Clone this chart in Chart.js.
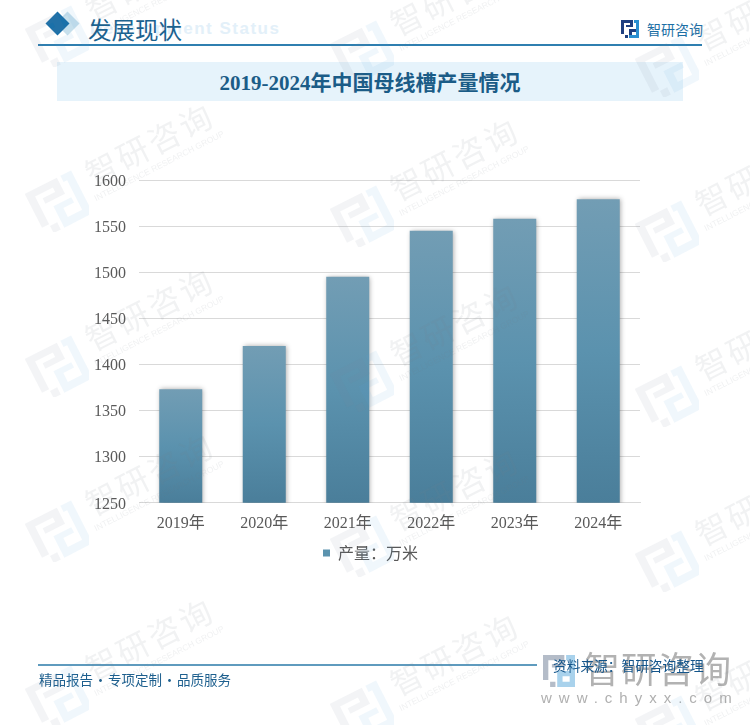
<!DOCTYPE html>
<html lang="zh">
<head>
<meta charset="utf-8">
<title>2019-2024年中国母线槽产量情况</title>
<script src="https://cdn.jsdelivr.net/npm/chart.js@4"></script>
<style>
    html, body { margin: 0; padding: 0; background: #fff; }
    #page { position: relative; width: 750px; height: 725px; overflow: hidden; font-family: "Liberation Serif", "Noto Sans CJK SC", serif; }
    #page div, #page span, #page svg { position: absolute; white-space: nowrap; }
    canvas { position: absolute; left: 0; top: 0; }
    #watermarks { left: 0; top: 0; width: 750px; height: 725px; pointer-events: none; }
    .wm { width: 1px; height: 1px; }
    .wm-name { left: 40px; top: -51px; font: 32px "Noto Sans CJK SC", sans-serif; letter-spacing: 3px; color: rgba(120, 130, 140, 0.10); transform: rotate(-27deg); transform-origin: 0 100%; }
    .wm-sub { left: 40px; top: -7px; font: 8.5px "Liberation Sans", sans-serif; color: rgba(120, 130, 140, 0.11); transform: rotate(-27deg); transform-origin: 0 100%; }
</style>
</head>
<body>
<div id="page">
    <!-- header -->
    <div style="left:90px;top:19px;font:bold 17px 'Liberation Sans',sans-serif;color:#e3f0f9;letter-spacing:1.5px">Development Status</div>
    <div style="left:58.5px;top:14.5px;width:17px;height:17px;background:#c6dfec;transform:rotate(45deg)"></div>
    <div style="left:48.5px;top:14.5px;width:17px;height:17px;background:#1a70a9;transform:rotate(45deg)"></div>
    <div style="left:88px;top:12px;font:23.5px 'Noto Sans CJK SC',sans-serif;color:#1b628f">发展现状</div>
    <div style="left:38px;top:44px;width:664px;height:1.5px;background:#2f7fb0"></div>
    <svg style="left:621px;top:20px" width="18" height="18" viewBox="0 0 18 18">
        <path d="M0 0H12V7H5V5H9V3H3V14H0ZM4 15H7V18H4ZM8 9H15V12H11V15H15V0H18V18H8Z" fill="#1f3f80"/>
        <path d="M13 0H18V18H8V15H15V3H13Z" fill="#2a8fd0"/>
    </svg>
    <div style="left:647px;top:19px;font:14px 'Noto Sans CJK SC',sans-serif;color:#1d6fa5">智研咨询</div>
    <div style="left:57px;top:62px;width:626px;height:39px;background:#e6f3fb"></div>
    <div style="left:57px;top:66px;width:626px;text-align:center;font:bold 21px 'Liberation Serif','Noto Sans CJK SC',serif;color:#1b5c87">2019-2024年中国母线槽产量情况</div>

    <canvas id="barChart" width="750" height="725"></canvas>

    <!-- footer -->
    <div style="left:38px;top:664px;width:499px;height:2px;background:#5f9bbe"></div>
    <div style="left:39px;top:669px;font:13.5px 'Noto Sans CJK SC',sans-serif;word-spacing:-2.3px;color:#1d5f8e">精品报告 · 专项定制 · 品质服务</div>
    <svg style="left:543px;top:655px" width="32" height="32" viewBox="0 0 18 18">
        <path d="M0 0H12V7H5V5H9V3H3V14H0ZM4 15H7V18H4Z" fill="#b4bcc8"/>
        <path d="M13 0H18V18H8V9H15V12H11V15H15V3H13Z" fill="#a9d2ec"/>
    </svg>
    <div style="left:584px;top:641px;font:36px 'Noto Sans CJK SC',sans-serif;color:#b2b2b2;letter-spacing:1px">智研咨询</div>
    <div style="left:541px;top:689px;font:15px 'Liberation Sans',sans-serif;color:#b0b0b0;letter-spacing:7px">www.chyxx.com</div>
    <div style="left:553px;top:655px;font:13.7px 'Noto Sans CJK SC',sans-serif;color:#14558a">资料来源：智研咨询整理</div>

    <div id="watermarks"></div>
</div>

<script>
// Dados do gráfico
const categories = ["2019年", "2020年", "2021年", "2022年", "2023年", "2024年"];
const seriesName = "产量：万米";
const seriesValues = [1373, 1420, 1495, 1545, 1558, 1579];
const yMin = 1250;
const yMax = 1600;
const yStep = 50;

// Marca d'água repetida
const wmColumns = [57, 362, 667];
const wmRows = [35, 200, 365, 530, 695];
const wmLayer = document.getElementById("watermarks");
wmColumns.forEach((x, col) => {
    wmRows.forEach((y) => {
        const wm = document.createElement("div");
        wm.className = "wm";
        wm.style.left = x + "px";
        wm.style.top = (y + col * 15) + "px";
        wm.innerHTML =
            '<svg style="left:-32px;top:-32px" width="64" height="64" viewBox="0 0 64 64">' +
            '<g transform="rotate(-27 32 32)"><path d="M6 12H42V30H20V24H34V19H14V50H6ZM14 52H22V60H14Z" fill="rgba(120,135,155,0.09)"/>' +
            '<path d="M46 12H58V60H26V36H46V42H34V52H50V19H46Z" fill="rgba(90,170,220,0.09)"/></g></svg>' +
            '<span class="wm-name">智研咨询</span>' +
            '<span class="wm-sub">INTELLIGENCE RESEARCH GROUP</span>';
        wmLayer.appendChild(wm);
    });
});

// Sombra das barras
const barShadow = {
    id: "barShadow",
    beforeDatasetsDraw(chart) {
        const ctx = chart.ctx;
        ctx.save();
        ctx.shadowColor = "rgba(0, 0, 0, 0.35)";
        ctx.shadowBlur = 5;
        ctx.shadowOffsetX = 1;
        ctx.shadowOffsetY = 0;
    },
    afterDatasetsDraw(chart) {
        chart.ctx.restore();
    },
};

// Legenda um pouco à direita do centro
const legendShift = {
    id: "legendShift",
    afterLayout(chart) {
        chart.legend.left += 20;
    },
};

// Gradiente de cada barra
function barGradient(context) {
    const chart = context.chart;
    if (!chart.chartArea || context.dataIndex === undefined) {
        return "#5b93ae";
    }
    const top = chart.scales.y.getPixelForValue(seriesValues[context.dataIndex]);
    const gradient = chart.ctx.createLinearGradient(0, top, 0, chart.chartArea.bottom);
    gradient.addColorStop(0, "#729db4");
    gradient.addColorStop(0.5, "#5b92ae");
    gradient.addColorStop(1, "#4a7e9a");
    return gradient;
}

const labelFont = { family: "'Liberation Serif', 'Noto Sans CJK SC', serif", size: 16 };

new Chart(document.getElementById("barChart").getContext("2d"), {
    type: "bar",
    data: {
        labels: categories,
        datasets: [
            {
                label: seriesName,
                data: seriesValues,
                backgroundColor: barGradient,
                borderWidth: 0,
                barPercentage: 0.515,
                categoryPercentage: 1,
            },
        ],
    },
    options: {
        responsive: false,
        animation: false,
        layout: { padding: { left: 81, right: 110, top: 180, bottom: 154 } },
        scales: {
            x: {
                grid: { display: false },
                border: { color: "#d9d9d9" },
                ticks: { color: "#595959", font: labelFont, padding: 3, maxRotation: 0 },
            },
            y: {
                min: yMin,
                max: yMax,
                grid: { color: "#d9d9d9", drawTicks: false },
                border: { display: false },
                ticks: {
                    color: "#595959",
                    font: labelFont,
                    padding: 13,
                    labelOffset: 1.5,
                    stepSize: yStep,
                    callback: (value) => String(value),
                },
            },
        },
        plugins: {
            tooltip: { enabled: false },
            legend: {
                position: "bottom",
                labels: {
                    boxWidth: 7,
                    boxHeight: 7,
                    padding: 9,
                    color: "#595959",
                    font: { family: "'Noto Sans CJK SC', sans-serif", size: 16 },
                    generateLabels: (chart) => [
                        { text: seriesName, fillStyle: "#5b93ae", strokeStyle: "#5b93ae", fontColor: "#595959", lineWidth: 0, datasetIndex: 0 },
                    ],
                },
            },
        },
    },
    plugins: [barShadow, legendShift],
});
</script>
</body>
</html>
